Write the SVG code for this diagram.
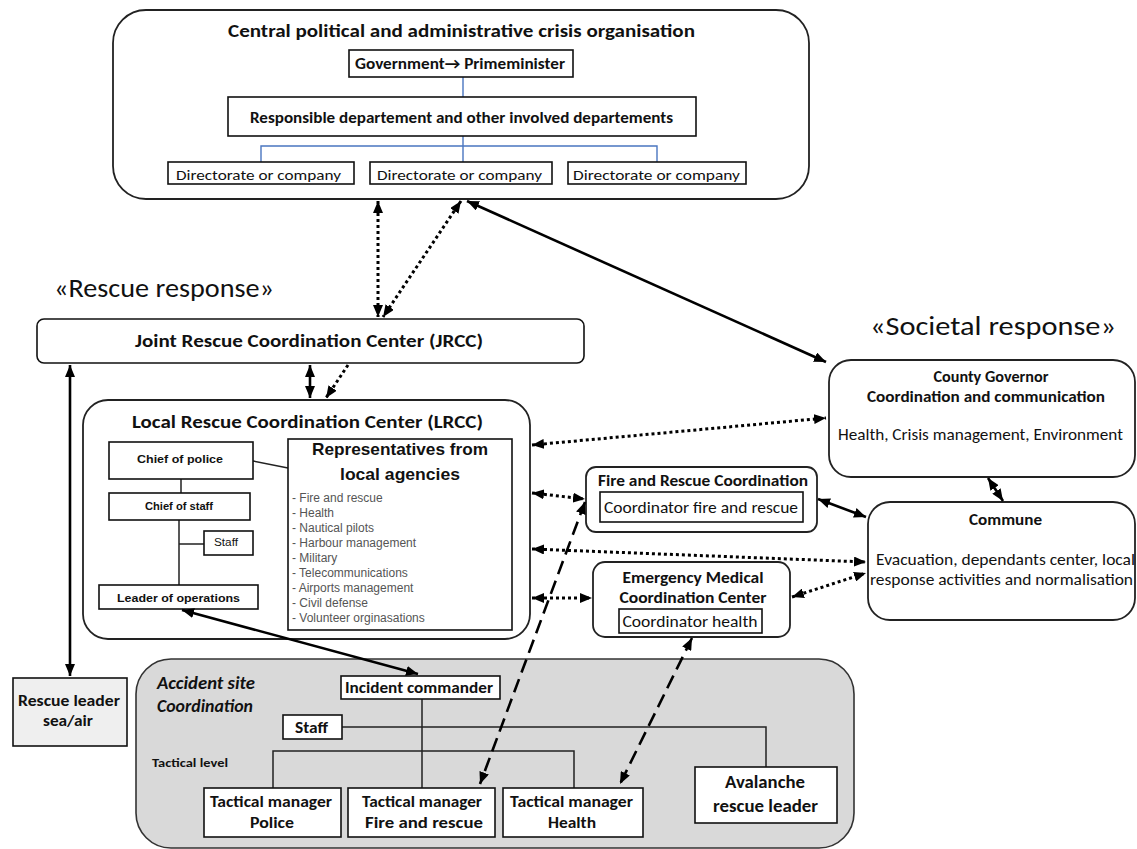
<svg xmlns="http://www.w3.org/2000/svg" width="1137" height="849" viewBox="0 0 1137 849">
  <style>
    .c { font-family: Carlito, Lato, "Open Sans", sans-serif; fill: #111; }
    .b { font-weight: bold; }
    .i { font-style: italic; }
    .m { text-anchor: middle; }
    .a { font-family: "Liberation Sans", Arial, sans-serif; fill: #111; }
    .n { font-family: "Liberation Sans Narrow", "Liberation Sans", Arial, sans-serif; fill: #555; font-size: 12px; }
    .box { fill: #fff; stroke: #111; stroke-width: 1.6; }
    .rbox { fill: #fff; stroke: #222; stroke-width: 1.8; }
    .blue { fill: none; stroke: #4a76c0; stroke-width: 1.4; }
    .tree { fill: none; stroke: #222; stroke-width: 1.5; }
    .solid { fill: none; stroke: #000; stroke-width: 2.6; }
    .dot { fill: none; stroke: #000; stroke-width: 3; stroke-dasharray: 3 3; }
    .dash { fill: none; stroke: #000; stroke-width: 2.6; stroke-dasharray: 14 7; }
  </style>
  <defs>
    <marker id="head" markerUnits="userSpaceOnUse" viewBox="0 0 12 10" markerWidth="12" markerHeight="10" refX="12" refY="5" orient="auto-start-reverse">
      <path d="M0,0 L12,5 L0,10 z" fill="#000"/>
    </marker>
  </defs>

  <!-- Central political and administrative crisis organisation -->
  <g id="central">
    <rect class="rbox" x="113" y="10" width="696" height="189" rx="33"/>
    <text class="c b m" x="461.5" y="37" font-size="18" textLength="467" lengthAdjust="spacingAndGlyphs">Central political and administrative crisis organisation</text>
    <!-- blue hierarchy lines -->
    <path class="blue" d="M463,77 V97 M463,136 V162 M261,162 V146 H657 V162"/>
  </g>
  <g id="government">
    <rect class="box" x="349" y="50" width="224" height="27"/>
    <text class="c b m" x="460" y="69" font-size="16" textLength="210" lengthAdjust="spacingAndGlyphs">Government→ Primeminister</text>
  </g>
  <g id="departements">
    <rect class="box" x="228" y="97" width="468" height="39"/>
    <text class="c b m" x="461.5" y="123" font-size="16" textLength="423" lengthAdjust="spacingAndGlyphs">Responsible departement and other involved departements</text>
  </g>
  <g id="directorate-1">
    <rect class="box" x="168" y="162" width="186" height="22"/>
    <text class="c m" x="258.5" y="179.5" font-size="15" textLength="165" lengthAdjust="spacingAndGlyphs">Directorate or company</text>
  </g>
  <g id="directorate-2">
    <rect class="box" x="370" y="162" width="182" height="22"/>
    <text class="c m" x="459.5" y="179.5" font-size="15" textLength="165" lengthAdjust="spacingAndGlyphs">Directorate or company</text>
  </g>
  <g id="directorate-3">
    <rect class="box" x="568" y="162" width="178" height="22"/>
    <text class="c m" x="656.5" y="179.5" font-size="15" textLength="167" lengthAdjust="spacingAndGlyphs">Directorate or company</text>
  </g>

  <!-- section headings -->
  <text class="c" x="54" y="297" font-size="26" textLength="220" lengthAdjust="spacingAndGlyphs">«Rescue response»</text>
  <text class="c" x="870" y="335" font-size="26" textLength="246" lengthAdjust="spacingAndGlyphs">«Societal response»</text>

  <!-- JRCC -->
  <g id="jrcc">
    <rect class="box" x="37" y="319" width="547" height="44" rx="7"/>
    <text class="c b m" x="309" y="347" font-size="17" textLength="348" lengthAdjust="spacingAndGlyphs">Joint Rescue Coordination Center (JRCC)</text>
  </g>

  <!-- LRCC -->
  <g id="lrcc">
    <rect class="rbox" x="83" y="400" width="447" height="239" rx="25"/>
    <text class="c b m" x="307.5" y="428" font-size="19" textLength="351" lengthAdjust="spacingAndGlyphs">Local Rescue Coordination Center (LRCC)</text>
    <path class="tree" d="M253,461 L288,468 M181,479 V493 M179,520 V585 M179,544 H204"/>
  </g>
  <g id="chief-of-police">
    <rect class="box" x="109" y="442" width="144" height="37"/>
    <text class="a b m" x="180" y="463" font-size="11.5" textLength="86" lengthAdjust="spacingAndGlyphs">Chief of police</text>
  </g>
  <g id="chief-of-staff">
    <rect class="box" x="109" y="493" width="141" height="27"/>
    <text class="a b m" x="179" y="510" font-size="11" textLength="68" lengthAdjust="spacingAndGlyphs">Chief of staff</text>
  </g>
  <g id="lrcc-staff">
    <rect class="box" x="204" y="531" width="49" height="24"/>
    <text class="a m" x="226" y="546" font-size="10" fill="#333" textLength="24" lengthAdjust="spacingAndGlyphs">Staff</text>
  </g>
  <g id="leader-of-operations">
    <rect class="box" x="99" y="585" width="159" height="24"/>
    <text class="a b m" x="178.5" y="602" font-size="11.5" textLength="123" lengthAdjust="spacingAndGlyphs">Leader of operations</text>
  </g>
  <g id="representatives">
    <rect class="box" x="288" y="439" width="224" height="191"/>
    <text class="a b m" x="400" y="455" font-size="17" textLength="176" lengthAdjust="spacingAndGlyphs">Representatives from</text>
    <text class="a b m" x="400" y="480" font-size="17" textLength="120" lengthAdjust="spacingAndGlyphs">local agencies</text>
    <text class="n" x="292" y="502">- Fire and rescue</text>
    <text class="n" x="292" y="517">- Health</text>
    <text class="n" x="292" y="532">- Nautical pilots</text>
    <text class="n" x="292" y="547">- Harbour management</text>
    <text class="n" x="292" y="562">- Military</text>
    <text class="n" x="292" y="577">- Telecommunications</text>
    <text class="n" x="292" y="592">- Airports management</text>
    <text class="n" x="292" y="607">- Civil defense</text>
    <text class="n" x="292" y="622">- Volunteer orginasations</text>
  </g>

  <!-- Fire and rescue / medical coordination -->
  <g id="fire-rescue-coordination">
    <rect class="rbox" x="586" y="467" width="231" height="65" rx="10"/>
    <text class="c b m" x="703" y="486" font-size="16" textLength="210" lengthAdjust="spacingAndGlyphs">Fire and Rescue Coordination</text>
    <rect class="box" x="600" y="492" width="203" height="30"/>
    <text class="c m" x="701" y="512.5" font-size="16" textLength="194" lengthAdjust="spacingAndGlyphs">Coordinator fire and rescue</text>
  </g>
  <g id="emergency-medical">
    <rect class="rbox" x="593" y="562" width="197" height="75" rx="12"/>
    <text class="c b m" x="693" y="583" font-size="16" textLength="141" lengthAdjust="spacingAndGlyphs">Emergency Medical</text>
    <text class="c b m" x="693" y="603" font-size="16" textLength="147" lengthAdjust="spacingAndGlyphs">Coordination Center</text>
    <rect class="box" x="619" y="609" width="143" height="24"/>
    <text class="c m" x="690" y="626.5" font-size="16" textLength="135" lengthAdjust="spacingAndGlyphs">Coordinator health</text>
  </g>

  <!-- Societal response -->
  <g id="county-governor">
    <rect class="rbox" x="829" y="360" width="306" height="117" rx="22"/>
    <text class="c b m" x="991" y="382" font-size="16" textLength="115" lengthAdjust="spacingAndGlyphs">County Governor</text>
    <text class="c b m" x="986" y="402" font-size="16" textLength="238" lengthAdjust="spacingAndGlyphs">Coordination and communication</text>
    <text class="c m" x="980.5" y="440" font-size="16" textLength="285" lengthAdjust="spacingAndGlyphs">Health, Crisis management, Environment</text>
  </g>
  <g id="commune">
    <rect class="rbox" x="868" y="502" width="267" height="118" rx="22"/>
    <text class="c b m" x="1005.5" y="525" font-size="16" textLength="73" lengthAdjust="spacingAndGlyphs">Commune</text>
    <text class="c m" x="1005.5" y="565" font-size="16" textLength="259" lengthAdjust="spacingAndGlyphs">Evacuation, dependants center, local</text>
    <text class="c m" x="1001.5" y="585" font-size="16" textLength="263" lengthAdjust="spacingAndGlyphs">response activities and normalisation</text>
  </g>

  <!-- Rescue leader sea/air -->
  <g id="rescue-leader">
    <rect x="13" y="678" width="114" height="68" fill="#efefef" stroke="#111" stroke-width="1.6"/>
    <text class="c b m" x="69" y="706" font-size="16" textLength="102" lengthAdjust="spacingAndGlyphs">Rescue leader</text>
    <text class="c b m" x="68" y="726" font-size="16" textLength="50" lengthAdjust="spacingAndGlyphs">sea/air</text>
  </g>

  <!-- Accident site coordination -->
  <g id="accident-site">
    <rect x="136" y="659" width="718" height="189" rx="35" fill="#d9d9d9" stroke="#333" stroke-width="1.6"/>
    <text class="c b i" x="157" y="689" font-size="18" textLength="98" lengthAdjust="spacingAndGlyphs">Accident site</text>
    <text class="c b i" x="157" y="712" font-size="18" textLength="96" lengthAdjust="spacingAndGlyphs">Coordination</text>
    <text class="c b" x="152" y="767" font-size="11.5" textLength="76" lengthAdjust="spacingAndGlyphs">Tactical level</text>
    <path class="tree" d="M422,699 V788 M342,727 H766 V767 M273,788 V751 H574 V788"/>
  </g>
  <g id="incident-commander">
    <rect class="box" x="341" y="676" width="159" height="23"/>
    <text class="c m" x="419" y="692.5" font-size="16" font-weight="600" textLength="148" lengthAdjust="spacingAndGlyphs">Incident commander</text>
  </g>
  <g id="site-staff">
    <rect class="box" x="283" y="715" width="59" height="24"/>
    <text class="c m" x="311.5" y="732.5" font-size="16" font-weight="600" textLength="33" lengthAdjust="spacingAndGlyphs">Staff</text>
  </g>
  <g id="tm-police">
    <rect class="box" x="204" y="788" width="137" height="49"/>
    <text class="c b m" x="271" y="807" font-size="16" textLength="122" lengthAdjust="spacingAndGlyphs">Tactical manager</text>
    <text class="c b m" x="272" y="828" font-size="16" textLength="44" lengthAdjust="spacingAndGlyphs">Police</text>
  </g>
  <g id="tm-fire">
    <rect class="box" x="348" y="788" width="147" height="49"/>
    <text class="c b m" x="422" y="807" font-size="16" textLength="120" lengthAdjust="spacingAndGlyphs">Tactical manager</text>
    <text class="c b m" x="424" y="828" font-size="16" textLength="118" lengthAdjust="spacingAndGlyphs">Fire and rescue</text>
  </g>
  <g id="tm-health">
    <rect class="box" x="503" y="788" width="140" height="49"/>
    <text class="c b m" x="571.5" y="807" font-size="16" textLength="123" lengthAdjust="spacingAndGlyphs">Tactical manager</text>
    <text class="c b m" x="572" y="828" font-size="16" textLength="48" lengthAdjust="spacingAndGlyphs">Health</text>
  </g>
  <g id="avalanche">
    <rect class="box" x="695" y="767" width="142" height="56"/>
    <text class="c b m" x="765" y="788" font-size="18" textLength="80" lengthAdjust="spacingAndGlyphs">Avalanche</text>
    <text class="c b m" x="765.5" y="812" font-size="18" textLength="105" lengthAdjust="spacingAndGlyphs">rescue leader</text>
  </g>

  <!-- connectors -->
  <g id="connectors">
    <path class="dot" d="M378,201 L378,317" marker-start="url(#head)" marker-end="url(#head)"/>
    <path class="dot" d="M461,201 L383,317" marker-start="url(#head)" marker-end="url(#head)"/>
    <path class="solid" d="M467,201 L826,362" marker-start="url(#head)" marker-end="url(#head)"/>
    <path class="solid" d="M310,365 L310,398" marker-start="url(#head)" marker-end="url(#head)"/>
    <path class="dot" d="M348,365 L326,398" marker-end="url(#head)"/>
    <path class="solid" d="M70,365 L70,676" marker-start="url(#head)" marker-end="url(#head)"/>
    <path class="dot" d="M532,445 L826,418" marker-start="url(#head)" marker-end="url(#head)"/>
    <path class="dot" d="M532,493 L585,499" marker-start="url(#head)" marker-end="url(#head)"/>
    <path class="dot" d="M532,549 L866,562" marker-start="url(#head)" marker-end="url(#head)"/>
    <path class="dot" d="M532,598 L592,598" marker-start="url(#head)" marker-end="url(#head)"/>
    <path class="dot" d="M792,597 L866,573" marker-start="url(#head)" marker-end="url(#head)"/>
    <path class="solid" d="M818,499 L866,517" marker-start="url(#head)" marker-end="url(#head)"/>
    <path class="solid" d="M988,478 L1003,501" marker-start="url(#head)" marker-end="url(#head)"/>
    <path class="solid" d="M182,610 L418,674" marker-start="url(#head)" marker-end="url(#head)"/>
    <path class="dash" d="M585,502 L480,784" marker-start="url(#head)" marker-end="url(#head)"/>
    <path class="dash" d="M692,638 L620,784" marker-start="url(#head)" marker-end="url(#head)"/>
  </g>
</svg>
